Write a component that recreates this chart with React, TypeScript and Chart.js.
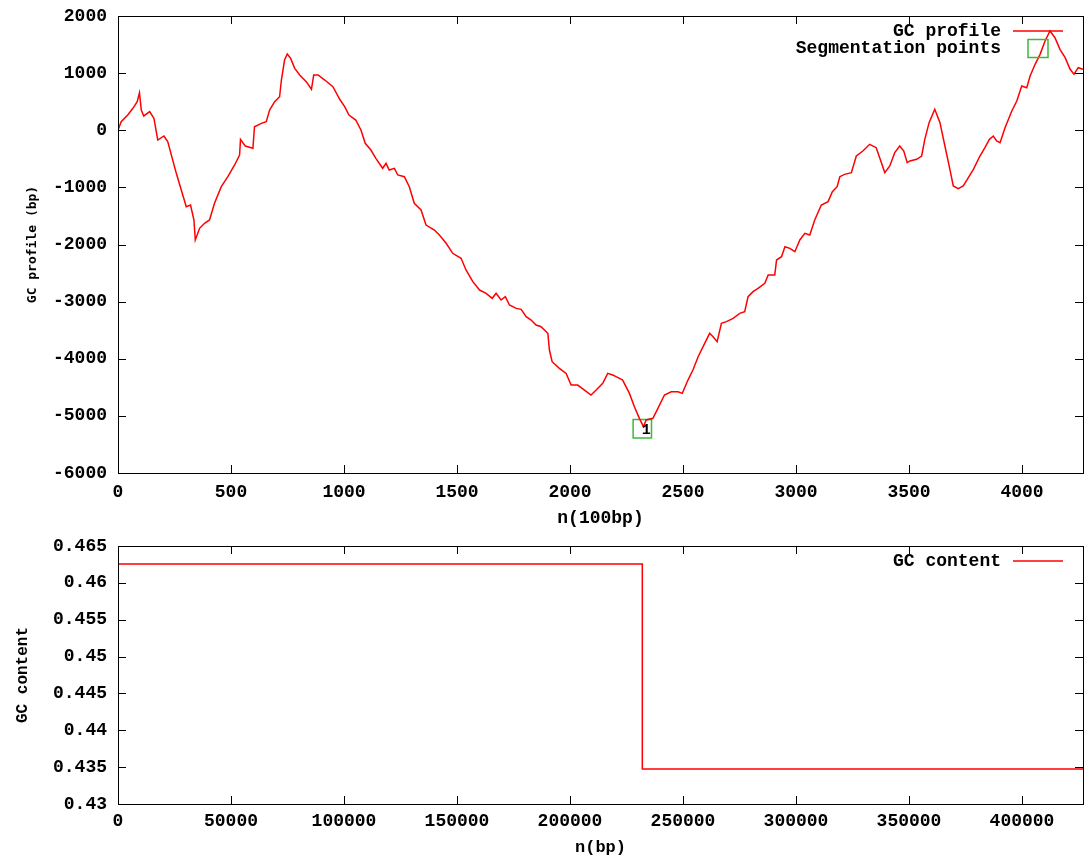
import React, { useEffect, useRef } from "react";
import { Chart, registerables } from "chart.js";

Chart.register(...registerables);

// ---------- data ----------
const profileN = [
  0, 14, 43, 66, 85, 95, 103, 114, 140, 159, 176, 203, 220, 258, 280, 302, 321, 336, 342, 361,
  383, 405, 427, 457, 486, 516, 538, 542, 563, 597, 604, 634, 656, 671, 693, 715, 723, 737, 749, 764,
  782, 804, 833, 856, 866, 885, 915, 951, 981, 1003, 1022, 1052, 1075, 1094, 1119, 1141, 1171, 1186, 1200, 1223,
  1238, 1267, 1289, 1311, 1341, 1363, 1400, 1422, 1452, 1481, 1518, 1540, 1570, 1600, 1629, 1656, 1673, 1695, 1714, 1732,
  1762, 1784, 1806, 1828, 1850, 1872, 1902, 1909, 1921, 1953, 1983, 2005, 2034, 2064, 2093, 2116, 2145, 2167, 2189, 2204,
  2233, 2263, 2285, 2307, 2325, 2337, 2367, 2389, 2418, 2448, 2478, 2497, 2522, 2544, 2567, 2596, 2618, 2633, 2651, 2670,
  2692, 2722, 2751, 2773, 2788, 2810, 2832, 2862, 2877, 2906, 2914, 2936, 2951, 2973, 2995, 3017, 3039, 3061, 3083, 3112,
  3142, 3161, 3182, 3194, 3215, 3245, 3267, 3296, 3326, 3355, 3378, 3393, 3415, 3437, 3459, 3477, 3492, 3504, 3534, 3556,
  3570, 3589, 3614, 3637, 3659, 3681, 3696, 3718, 3740, 3758, 3785, 3814, 3836, 3856, 3873, 3888, 3903, 3925, 3955, 3977,
  3999, 4021, 4036, 4058, 4080, 4102, 4124, 4146, 4168, 4191, 4213, 4230, 4249, 4270,
];
const profileGC = [
  0, 150, 267, 384, 500, 657, 354, 250, 325, 209, -171, -100, -200, -754, -1046, -1338, -1309, -1571, -1921, -1717,
  -1629, -1571, -1279, -988, -813, -608, -433, -159, -276, -316, 62, 121, 150, 354, 500, 587, 879, 1229, 1334, 1258,
  1083, 967, 850, 717, 967, 967, 879, 763, 542, 413, 267, 179, 4, -228, -346, -491, -666, -579, -696, -666,
  -783, -813, -988, -1279, -1396, -1659, -1746, -1834, -1979, -2154, -2242, -2446, -2651, -2797, -2855, -2942, -2855, -2972, -2914, -3059,
  -3118, -3135, -3263, -3322, -3409, -3439, -3555, -3847, -4052, -4169, -4256, -4460, -4460, -4548, -4635, -4548, -4431, -4256, -4285, -4314,
  -4373, -4606, -4839, -5043, -5189, -5072, -5043, -4868, -4635, -4577, -4577, -4606, -4373, -4198, -3964, -3730, -3555, -3614, -3701, -3380,
  -3351, -3293, -3205, -3176, -2914, -2826, -2767, -2680, -2534, -2534, -2272, -2213, -2038, -2067, -2126, -1921, -1805, -1834, -1571, -1309,
  -1250, -1075, -988, -813, -772, -743, -451, -363, -246, -305, -568, -743, -626, -392, -276, -363, -568, -538, -509, -451,
  -159, 133, 367, 133, -276, -684, -976, -1023, -976, -859, -684, -451, -305, -159, -101, -188, -218, 45, 337, 512,
  775, 745, 950, 1154, 1329, 1563, 1737, 1620, 1417, 1270, 1067, 980, 1095, 1067,
];
const segN = [2320];
const segGC = [-5225];
const segLabels = ["1"];

const contentBp = [0, 232000, 427000];
const contentGC = [0.46256, 0.43475, 0.43475];

const profileXTicks = [0, 500, 1000, 1500, 2000, 2500, 3000, 3500, 4000];
const profileYTicks = [-6000, -5000, -4000, -3000, -2000, -1000, 0, 1000, 2000];
const contentXTicks = [0, 50000, 100000, 150000, 200000, 250000, 300000, 350000, 400000];
const contentYTicks = [0.43, 0.435, 0.44, 0.445, 0.45, 0.455, 0.46, 0.465];

// ---------- style ----------
const FONT_FAMILY = "'Liberation Mono', 'DejaVu Sans Mono', monospace";
const TITLE_FAMILY = "'DejaVu Sans Mono', 'Liberation Mono', monospace";
const RED = "rgb(255,0,0)";
const GREEN = "rgb(60,185,60)";
const W = 1091;
const TOP_H = 530;
const BOT_H = 328;

const gnuplotPlugin = {
  id: "gnuplot",
  afterDatasetsDraw(chart: any) {
    const { ctx, chartArea: a, scales } = chart;
    const xs = scales.x;
    const ys = scales.y;
    const L = 8;
    ctx.save();
    ctx.strokeStyle = "#000";
    ctx.lineWidth = 1;
    ctx.beginPath();
    for (const t of xs.ticks) {
      const p = Math.round(xs.getPixelForValue(t.value)) + 0.5;
      ctx.moveTo(p, a.bottom);
      ctx.lineTo(p, a.bottom - L);
      ctx.moveTo(p, a.top);
      ctx.lineTo(p, a.top + L);
    }
    for (const t of ys.ticks) {
      const p = Math.round(ys.getPixelForValue(t.value)) + 0.5;
      ctx.moveTo(a.left, p);
      ctx.lineTo(a.left + L, p);
      ctx.moveTo(a.right, p);
      ctx.lineTo(a.right - L, p);
    }
    ctx.stroke();
    ctx.strokeRect(
      Math.round(a.left) + 0.5,
      Math.round(a.top) + 0.5,
      Math.round(a.right - a.left),
      Math.round(a.bottom - a.top)
    );
    // legend + point labels
    ctx.textBaseline = "middle";
    chart.data.datasets.forEach((ds: any, i: number) => {
      const y = a.top + 15 + i * 17.5;
      ctx.font = `bold 18px ${FONT_FAMILY}`;
      ctx.textAlign = "right";
      ctx.fillStyle = "#000";
      ctx.fillText(ds.label, a.right - 82, y);
      ctx.strokeStyle = ds.borderColor;
      ctx.lineWidth = 1.5;
      if (ds.type === "scatter") {
        ctx.strokeRect(a.right - 55, y - 9, 20, 18);
      } else {
        ctx.beginPath();
        ctx.moveTo(a.right - 70, y);
        ctx.lineTo(a.right - 20, y);
        ctx.stroke();
      }
      if (ds.pointLabels) {
        const meta = chart.getDatasetMeta(i);
        ctx.font = `bold 15px ${FONT_FAMILY}`;
        ctx.textAlign = "center";
        ctx.fillStyle = "#000";
        meta.data.forEach((el: any, j: number) => {
          ctx.fillText(ds.pointLabels[j], el.x + 4, el.y + 1);
        });
      }
    });
    ctx.restore();
  },
};

const tickFont = { family: FONT_FAMILY, size: 18, weight: "bold" as const };

function zeroPad(s: any) {
  s.paddingTop = 0;
  s.paddingBottom = 0;
  s.paddingLeft = 0;
  s.paddingRight = 0;
}

function axisX(min: number, max: number, ticksArr: number[], title: string, height: number, tickPad: number, titlePadBottom: number, titleSize: number) {
  return {
    type: "linear" as const,
    min,
    max,
    afterBuildTicks: (s: any) => {
      s.ticks = ticksArr.map((v) => ({ value: v }));
    },
    afterFit: (s: any) => {
      s.height = height;
      zeroPad(s);
    },
    grid: { display: false, drawTicks: false },
    border: { display: false },
    ticks: {
      padding: tickPad,
      maxRotation: 0,
      autoSkip: false,
      color: "#000",
      font: tickFont,
      callback: (v: any) => String(v),
    },
    title: {
      display: true,
      text: title,
      color: "#000",
      font: { family: FONT_FAMILY, size: titleSize, weight: "bold" as const },
      padding: { top: 0, bottom: titlePadBottom },
    },
  };
}

function axisY(min: number, max: number, ticksArr: number[], title: string, titleFamily: string, titleSize: number, titlePadTop: number) {
  return {
    type: "linear" as const,
    min,
    max,
    afterBuildTicks: (s: any) => {
      s.ticks = ticksArr.map((v) => ({ value: v }));
    },
    afterFit: (s: any) => {
      s.width = 118;
      zeroPad(s);
    },
    grid: { display: false, drawTicks: false },
    border: { display: false },
    ticks: {
      padding: 11,
      autoSkip: false,
      color: "#000",
      font: tickFont,
      callback: (v: any) => String(v),
    },
    title: {
      display: true,
      text: title,
      color: "#000",
      font: { family: titleFamily, size: titleSize, weight: "bold" as const },
      padding: { top: titlePadTop, bottom: 0 },
    },
  };
}

export default function App() {
  const topRef = useRef<HTMLCanvasElement>(null);
  const botRef = useRef<HTMLCanvasElement>(null);

  useEffect(() => {
    const top = new Chart(topRef.current as HTMLCanvasElement, {
      type: "line",
      data: {
        datasets: [
          {
            type: "line",
            label: "GC profile",
            data: profileN.map((n, i) => ({ x: n, y: profileGC[i] })),
            borderColor: RED,
            borderWidth: 1.5,
            pointRadius: 0,
            tension: 0,
            fill: false,
          } as any,
          {
            type: "scatter",
            label: "Segmentation points",
            data: segN.map((n, i) => ({ x: n, y: segGC[i] })),
            pointStyle: "rect",
            pointRadius: 13,
            borderColor: GREEN,
            backgroundColor: "rgba(0,0,0,0)",
            borderWidth: 1.5,
            showLine: false,
            pointLabels: segLabels,
          } as any,
        ],
      },
      options: {
        responsive: false,
        animation: false,
        devicePixelRatio: 1,
        events: [],
        layout: { autoPadding: false, padding: { top: 16, right: 8, left: 0, bottom: 0 } },
        plugins: { legend: { display: false }, tooltip: { enabled: false } },
        scales: {
          x: axisX(0, 4270, profileXTicks, "n(100bp)", 57, 9, 1, 18),
          y: axisY(-6000, 2000, profileYTicks, "GC profile (bp)", TITLE_FAMILY, 13, 25),
        },
      } as any,
      plugins: [gnuplotPlugin],
    });

    const bot = new Chart(botRef.current as HTMLCanvasElement, {
      type: "line",
      data: {
        datasets: [
          {
            type: "line",
            label: "GC content",
            data: contentBp.map((n, i) => ({ x: n, y: contentGC[i] })),
            borderColor: RED,
            borderWidth: 1.5,
            pointRadius: 0,
            stepped: "before",
            fill: false,
          } as any,
        ],
      },
      options: {
        responsive: false,
        animation: false,
        devicePixelRatio: 1,
        events: [],
        layout: { autoPadding: false, padding: { top: 16, right: 8, left: 0, bottom: 0 } },
        plugins: { legend: { display: false }, tooltip: { enabled: false } },
        scales: {
          x: axisX(0, 427000, contentXTicks, "n(bp)", 54, 7, 0, 17),
          y: axisY(0.43, 0.465, contentYTicks, "GC content", FONT_FAMILY, 16, 13),
        },
      } as any,
      plugins: [gnuplotPlugin],
    });

    return () => {
      top.destroy();
      bot.destroy();
    };
  }, []);

  return (
    <div style={{ position: "absolute", left: 0, top: 0, width: W, height: TOP_H + BOT_H, background: "#fff" }}>
      <canvas ref={topRef} width={W} height={TOP_H} style={{ display: "block" }} />
      <canvas ref={botRef} width={W} height={BOT_H} style={{ display: "block" }} />
    </div>
  );
}
